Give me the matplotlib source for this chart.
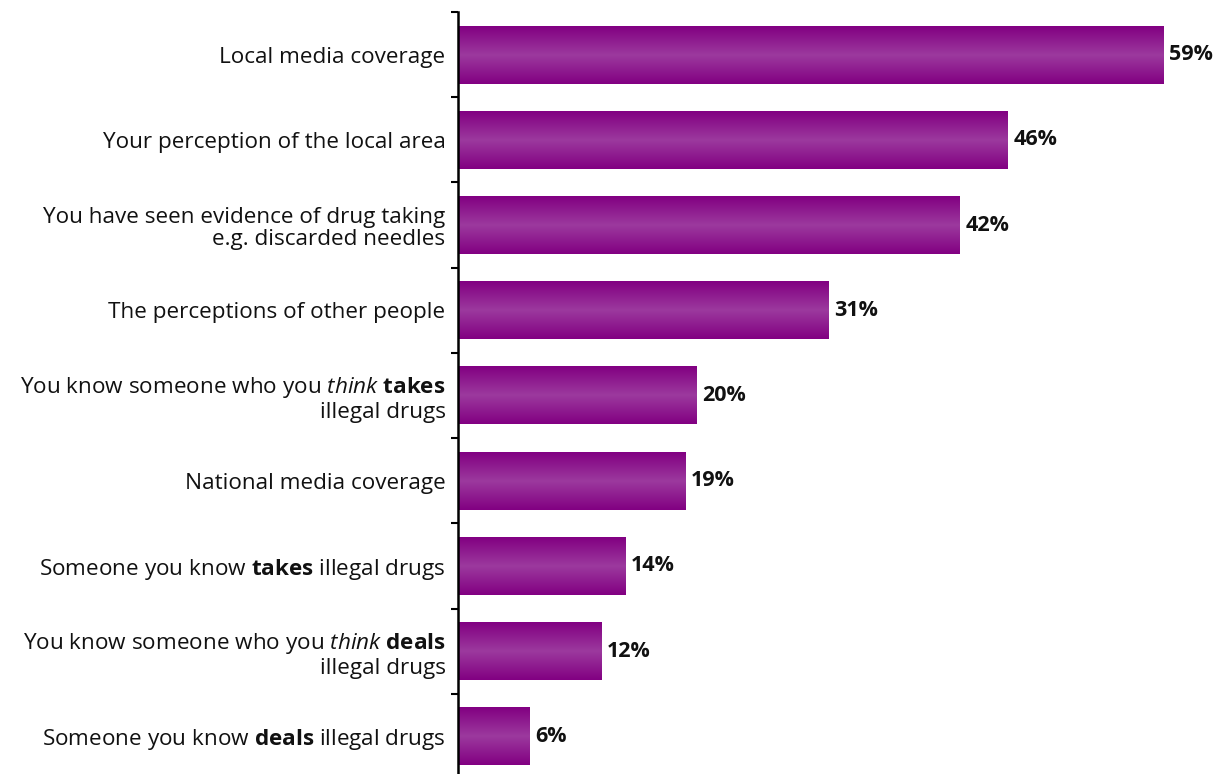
import matplotlib
matplotlib.use("Agg")
import matplotlib.pyplot as plt
import numpy as np
from matplotlib.colors import LinearSegmentedColormap

# data
categories = [
    "Local media coverage",
    "Your perception of the local area",
    "You have seen evidence of drug taking\ne.g. discarded needles",
    "The perceptions of other people",
    "You know someone who you $\\mathit{think}$ $\\mathbf{takes}$\nillegal drugs",
    "National media coverage",
    "Someone you know $\\mathbf{takes}$ illegal drugs",
    "You know someone who you $\\mathit{think}$ $\\mathbf{deals}$\nillegal drugs",
    "Someone you know $\\mathbf{deals}$ illegal drugs",
]
values = [59, 46, 42, 31, 20, 19, 14, 12, 6]

FONT = "Open Sans"
plt.rcParams["font.family"] = [FONT, "DejaVu Sans"]
plt.rcParams["mathtext.fontset"] = "custom"
plt.rcParams["mathtext.rm"] = FONT
plt.rcParams["mathtext.it"] = FONT + ":italic"
plt.rcParams["mathtext.bf"] = FONT + ":bold"

W, H = 1223, 774
fig = plt.figure(figsize=(W / 100, H / 100), dpi=100)
ax = fig.add_axes([458 / W, -5 / H, 1 - 458 / W, (774 - 12 + 5) / H])

# gradient for the bars: dark at edges, lighter in the middle
cmap = LinearSegmentedColormap.from_list("purp", ["#820082", "#9c3a9e", "#820082"])
grad = np.linspace(0, 1, 64).reshape(-1, 1)

n = len(values)
ypos = np.arange(n)
bh = 0.68
bars = ax.barh(ypos, values, height=bh, color="none", edgecolor="none")
for b in bars:
    x0, y0 = b.get_x(), b.get_y()
    w, h = b.get_width(), b.get_height()
    ax.imshow(grad, cmap=cmap, aspect="auto", extent=[x0, x0 + w, y0 + h, y0],
              interpolation="bicubic", zorder=2)

for y, v in zip(ypos, values):
    ax.annotate(f"{v}%", (v, y), xytext=(4, 0), textcoords="offset points",
                va="center", ha="left", fontsize=15.5, fontweight="bold",
                fontstretch="normal", color="#111111")

ax.set_xlim(0, (W - 458) / 11.95)
ax.set_ylim(n - 0.5, -0.5)

ax.set_yticks(ypos)
ax.set_yticklabels(categories, fontsize=16.2, color="#111111", linespacing=1.12)
ax.tick_params(axis="y", which="major", length=0, pad=9)
ax.set_yticks(np.arange(-0.5, n, 1), minor=True)
ax.tick_params(axis="y", which="minor", length=5, width=1.5, color="black")
for lbl in ax.get_yticklabels():
    lbl.set_horizontalalignment("right")
    lbl.set_multialignment("right")

ax.set_xticks([])
for s in ["top", "right", "bottom"]:
    ax.spines[s].set_visible(False)
ax.spines["left"].set_linewidth(1.8)

fig.savefig("out.png", dpi=100)
